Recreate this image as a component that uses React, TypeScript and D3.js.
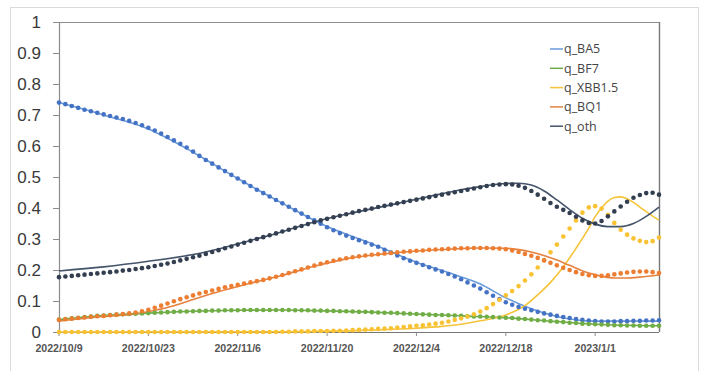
import React from "react";
import * as d3 from "d3";

const START = "2022-10-09";
const xTickLabels = ["2022/10/9", "2022/10/23", "2022/11/6", "2022/11/20", "2022/12/4", "2022/12/18", "2023/1/1"];
const yTicks = [0, 0.1, 0.2, 0.3, 0.4, 0.5, 0.6, 0.7, 0.8, 0.9, 1];
const seriesNames = ["q_BA5", "q_BF7", "q_XBB1.5", "q_BQ1", "q_oth"];

// observed daily values (dots), one per day from 2022/10/9
const ba5Obs = [0.740, 0.735, 0.729, 0.723, 0.717, 0.712, 0.707, 0.702, 0.697, 0.692, 0.687, 0.681, 0.674, 0.667, 0.659, 0.650, 0.640, 0.629, 0.618, 0.607, 0.595, 0.582, 0.568, 0.555, 0.543, 0.531, 0.519, 0.507, 0.495, 0.483, 0.471, 0.459, 0.448, 0.437, 0.426, 0.415, 0.404, 0.393, 0.382, 0.371, 0.360, 0.349, 0.338, 0.328, 0.319, 0.311, 0.303, 0.296, 0.289, 0.282, 0.275, 0.265, 0.256, 0.247, 0.238, 0.230, 0.223, 0.216, 0.209, 0.202, 0.195, 0.187, 0.179, 0.170, 0.160, 0.150, 0.140, 0.128, 0.117, 0.106, 0.096, 0.088, 0.081, 0.075, 0.070, 0.065, 0.060, 0.056, 0.052, 0.048, 0.045, 0.042, 0.039, 0.037, 0.035, 0.034, 0.034, 0.034, 0.035, 0.035, 0.036, 0.036, 0.037, 0.037, 0.038];
const bf7Obs = [0.040, 0.042, 0.044, 0.046, 0.048, 0.050, 0.052, 0.053, 0.055, 0.056, 0.057, 0.058, 0.059, 0.060, 0.061, 0.062, 0.063, 0.064, 0.065, 0.066, 0.066, 0.067, 0.068, 0.068, 0.069, 0.069, 0.070, 0.070, 0.070, 0.071, 0.071, 0.071, 0.071, 0.071, 0.071, 0.071, 0.071, 0.070, 0.070, 0.070, 0.069, 0.069, 0.068, 0.068, 0.067, 0.067, 0.066, 0.065, 0.065, 0.064, 0.063, 0.062, 0.062, 0.061, 0.060, 0.059, 0.058, 0.057, 0.056, 0.055, 0.055, 0.054, 0.053, 0.052, 0.051, 0.050, 0.050, 0.049, 0.048, 0.047, 0.046, 0.045, 0.043, 0.042, 0.040, 0.038, 0.037, 0.035, 0.033, 0.032, 0.030, 0.029, 0.027, 0.026, 0.025, 0.024, 0.023, 0.022, 0.022, 0.021, 0.021, 0.020, 0.020, 0.020, 0.020];
const xbbObs = [0, 0, 0, 0, 0, 0, 0, 0, 0, 0, 0, 0, 0, 0, 0, 0, 0, 0, 0, 0, 0, 0, 0, 0, 0, 0, 0, 0, 0, 0, 0, 0, 0, 0, 0, 0.001, 0.001, 0.002, 0.002, 0.002, 0.003, 0.003, 0.003, 0.004, 0.004, 0.005, 0.006, 0.007, 0.008, 0.009, 0.010, 0.011, 0.012, 0.014, 0.016, 0.018, 0.020, 0.022, 0.024, 0.027, 0.030, 0.034, 0.039, 0.044, 0.050, 0.057, 0.066, 0.077, 0.090, 0.104, 0.118, 0.132, 0.148, 0.166, 0.186, 0.208, 0.232, 0.257, 0.282, 0.308, 0.334, 0.360, 0.385, 0.402, 0.406, 0.398, 0.378, 0.352, 0.330, 0.314, 0.302, 0.294, 0.290, 0.293, 0.305];
const bq1Obs = [0.039, 0.041, 0.043, 0.045, 0.047, 0.049, 0.051, 0.052, 0.054, 0.056, 0.058, 0.060, 0.063, 0.067, 0.072, 0.078, 0.085, 0.092, 0.099, 0.106, 0.112, 0.118, 0.124, 0.129, 0.134, 0.139, 0.144, 0.148, 0.152, 0.156, 0.160, 0.164, 0.168, 0.173, 0.178, 0.184, 0.190, 0.196, 0.202, 0.208, 0.214, 0.220, 0.225, 0.230, 0.234, 0.238, 0.241, 0.244, 0.247, 0.249, 0.251, 0.253, 0.255, 0.257, 0.259, 0.260, 0.262, 0.263, 0.265, 0.266, 0.267, 0.268, 0.269, 0.270, 0.270, 0.271, 0.271, 0.271, 0.270, 0.269, 0.267, 0.263, 0.258, 0.252, 0.246, 0.239, 0.231, 0.223, 0.215, 0.207, 0.200, 0.193, 0.187, 0.183, 0.181, 0.181, 0.183, 0.186, 0.189, 0.192, 0.194, 0.195, 0.195, 0.193, 0.190];
const othObs = [0.177, 0.179, 0.181, 0.183, 0.185, 0.187, 0.189, 0.191, 0.193, 0.195, 0.198, 0.200, 0.203, 0.206, 0.209, 0.213, 0.217, 0.221, 0.226, 0.231, 0.236, 0.241, 0.246, 0.252, 0.258, 0.264, 0.270, 0.276, 0.282, 0.288, 0.294, 0.300, 0.306, 0.312, 0.318, 0.324, 0.330, 0.336, 0.342, 0.348, 0.354, 0.360, 0.365, 0.370, 0.375, 0.380, 0.385, 0.390, 0.394, 0.398, 0.403, 0.407, 0.411, 0.415, 0.419, 0.423, 0.427, 0.431, 0.435, 0.439, 0.443, 0.447, 0.451, 0.455, 0.459, 0.463, 0.467, 0.471, 0.474, 0.476, 0.477, 0.476, 0.472, 0.465, 0.455, 0.443, 0.430, 0.416, 0.404, 0.394, 0.384, 0.372, 0.360, 0.352, 0.350, 0.358, 0.373, 0.389, 0.405, 0.420, 0.433, 0.442, 0.448, 0.449, 0.443];

// fitted curves (lines): [day offset, value]
const ba5Fit: [number, number][] = [[0, 0.74], [7, 0.70], [14, 0.655], [17, 0.625], [21, 0.58], [28, 0.495], [35, 0.415], [42, 0.34], [49, 0.285], [56, 0.225], [62, 0.185], [66, 0.155], [70, 0.11], [74, 0.075], [78, 0.05], [84, 0.035], [94, 0.035]];
const bf7Fit: [number, number][] = [[0, 0.04], [7, 0.053], [14, 0.061], [21, 0.067], [28, 0.07], [35, 0.071], [42, 0.068], [49, 0.064], [56, 0.058], [63, 0.052], [70, 0.046], [77, 0.035], [84, 0.025], [94, 0.02]];
const xbbFit: [number, number][] = [[0, 0], [35, 0.001], [49, 0.006], [56, 0.012], [60, 0.018], [63, 0.025], [66, 0.036], [70, 0.055], [73, 0.085], [75, 0.12], [77, 0.16], [79, 0.21], [81, 0.27], [83, 0.335], [84, 0.372], [85, 0.4], [86, 0.422], [87, 0.434], [88, 0.436], [89, 0.43], [90, 0.418], [91, 0.403], [92, 0.388], [93, 0.374], [94, 0.361]];
const bq1Fit: [number, number][] = [[0, 0.035], [7, 0.05], [12, 0.058], [15, 0.07], [18, 0.085], [21, 0.105], [25, 0.13], [30, 0.157], [35, 0.183], [40, 0.212], [45, 0.236], [52, 0.254], [60, 0.266], [66, 0.271], [70, 0.27], [74, 0.258], [78, 0.232], [80, 0.215], [83, 0.19], [85, 0.18], [87, 0.174], [89, 0.174], [91, 0.177], [94, 0.184]];
const othFit: [number, number][] = [[0, 0.197], [7, 0.21], [14, 0.228], [21, 0.25], [25, 0.268], [28, 0.285], [32, 0.306], [36, 0.33], [40, 0.355], [45, 0.38], [52, 0.41], [58, 0.437], [62, 0.455], [66, 0.469], [70, 0.479], [72, 0.48], [74, 0.474], [76, 0.455], [78, 0.426], [80, 0.395], [82, 0.367], [84, 0.348], [86, 0.34], [88, 0.34], [90, 0.35], [92, 0.373], [94, 0.403]];

const dotColors = ["#4472C4", "#70AD47", "#F8C232", "#ED7D31", "#333F50"];
const lineColors = ["#6A9BDB", "#70AD47", "#F5C43A", "#E58240", "#44546A"];

const obsAll = [ba5Obs, bf7Obs, xbbObs, bq1Obs, othObs];
const fitAll = [ba5Fit, bf7Fit, xbbFit, bq1Fit, othFit];

const W = 707, H = 371;
const M = { left: 59, right: 659, top: 22, bottom: 332 };

export default function App() {
  const parse = d3.timeParse("%Y-%m-%d");
  const start = parse(START) as Date;
  const dayDate = (d: number) => d3.timeDay.offset(start, d);
  const x = d3.scaleTime().domain([start, dayDate(94)]).range([M.left, M.right]);
  const y = d3.scaleLinear().domain([0, 1]).range([M.bottom, M.top]);
  const line = d3.line<[number, number]>()
    .x(p => x(dayDate(p[0])))
    .y(p => y(p[1]))
    .curve(d3.curveMonotoneX);
  const tickParse = d3.timeParse("%Y/%m/%d");
  const axisGray = "#8C8C8C";

  return (
    <svg width={W} height={H} style={{ position: "absolute", left: 0, top: 0, background: "#fff" }}>
      <rect x={10.5} y={7.5} width={688} height={370} fill="#fff" stroke="#DADADA" strokeWidth={1} />
      {/* plot frame */}
      <line x1={M.left} x2={M.right} y1={M.top + 0.5} y2={M.top + 0.5} stroke={axisGray} strokeWidth={1.2} />
      <line x1={M.right + 0.5} x2={M.right + 0.5} y1={M.top} y2={M.bottom} stroke="#777" strokeWidth={1.4} />
      <line x1={M.left + 0.5} x2={M.left + 0.5} y1={M.top} y2={M.bottom} stroke={axisGray} strokeWidth={1.2} />
      <line x1={M.left} x2={M.right} y1={M.bottom + 0.5} y2={M.bottom + 0.5} stroke="#777" strokeWidth={1.2} />
      {yTicks.map(t => (
        <g key={t}>
          <line x1={M.left - 6} x2={M.left} y1={y(t) + 0.5} y2={y(t) + 0.5} stroke={axisGray} strokeWidth={1} />
          <text x={41} y={y(t)} dy="0.36em" textAnchor="end" fontFamily="'Liberation Sans', Arial, sans-serif" fontSize={17} fill="#3A3A3A">
            {d3.format("")(t)}
          </text>
        </g>
      ))}
      {xTickLabels.map(l => {
        const xx = x(tickParse(l) as Date);
        return (
          <g key={l}>
            <line x1={xx} x2={xx} y1={M.bottom} y2={M.bottom + 4} stroke={axisGray} strokeWidth={1} />
            <text x={xx} y={352} textAnchor="middle" fontFamily="'Liberation Sans', Arial, sans-serif" fontWeight={700} fontSize={10.6} fill="#555">
              {l}
            </text>
          </g>
        );
      })}
      {fitAll.map((f, i) => (
        <path key={"l" + i} d={line(f) || ""} fill="none" stroke={lineColors[i]} strokeWidth={1.6} />
      ))}
      {obsAll.map((arr, i) => (
        <g key={"d" + i} fill={dotColors[i]}>
          {arr.map((v, d) => (
            <circle key={d} cx={x(dayDate(d))} cy={y(v)} r={2.3} />
          ))}
        </g>
      ))}
      {seriesNames.map((n, i) => {
        const yy = 49 + i * 19.3;
        return (
          <g key={n}>
            <line x1={550} x2={563} y1={yy} y2={yy} stroke={lineColors[i]} strokeWidth={1.5} />
            <text x={564} y={yy} dy="0.35em" fontFamily="'Open Sans', sans-serif" fontSize={12.5} fill="#444">
              {n}
            </text>
          </g>
        );
      })}
    </svg>
  );
}
